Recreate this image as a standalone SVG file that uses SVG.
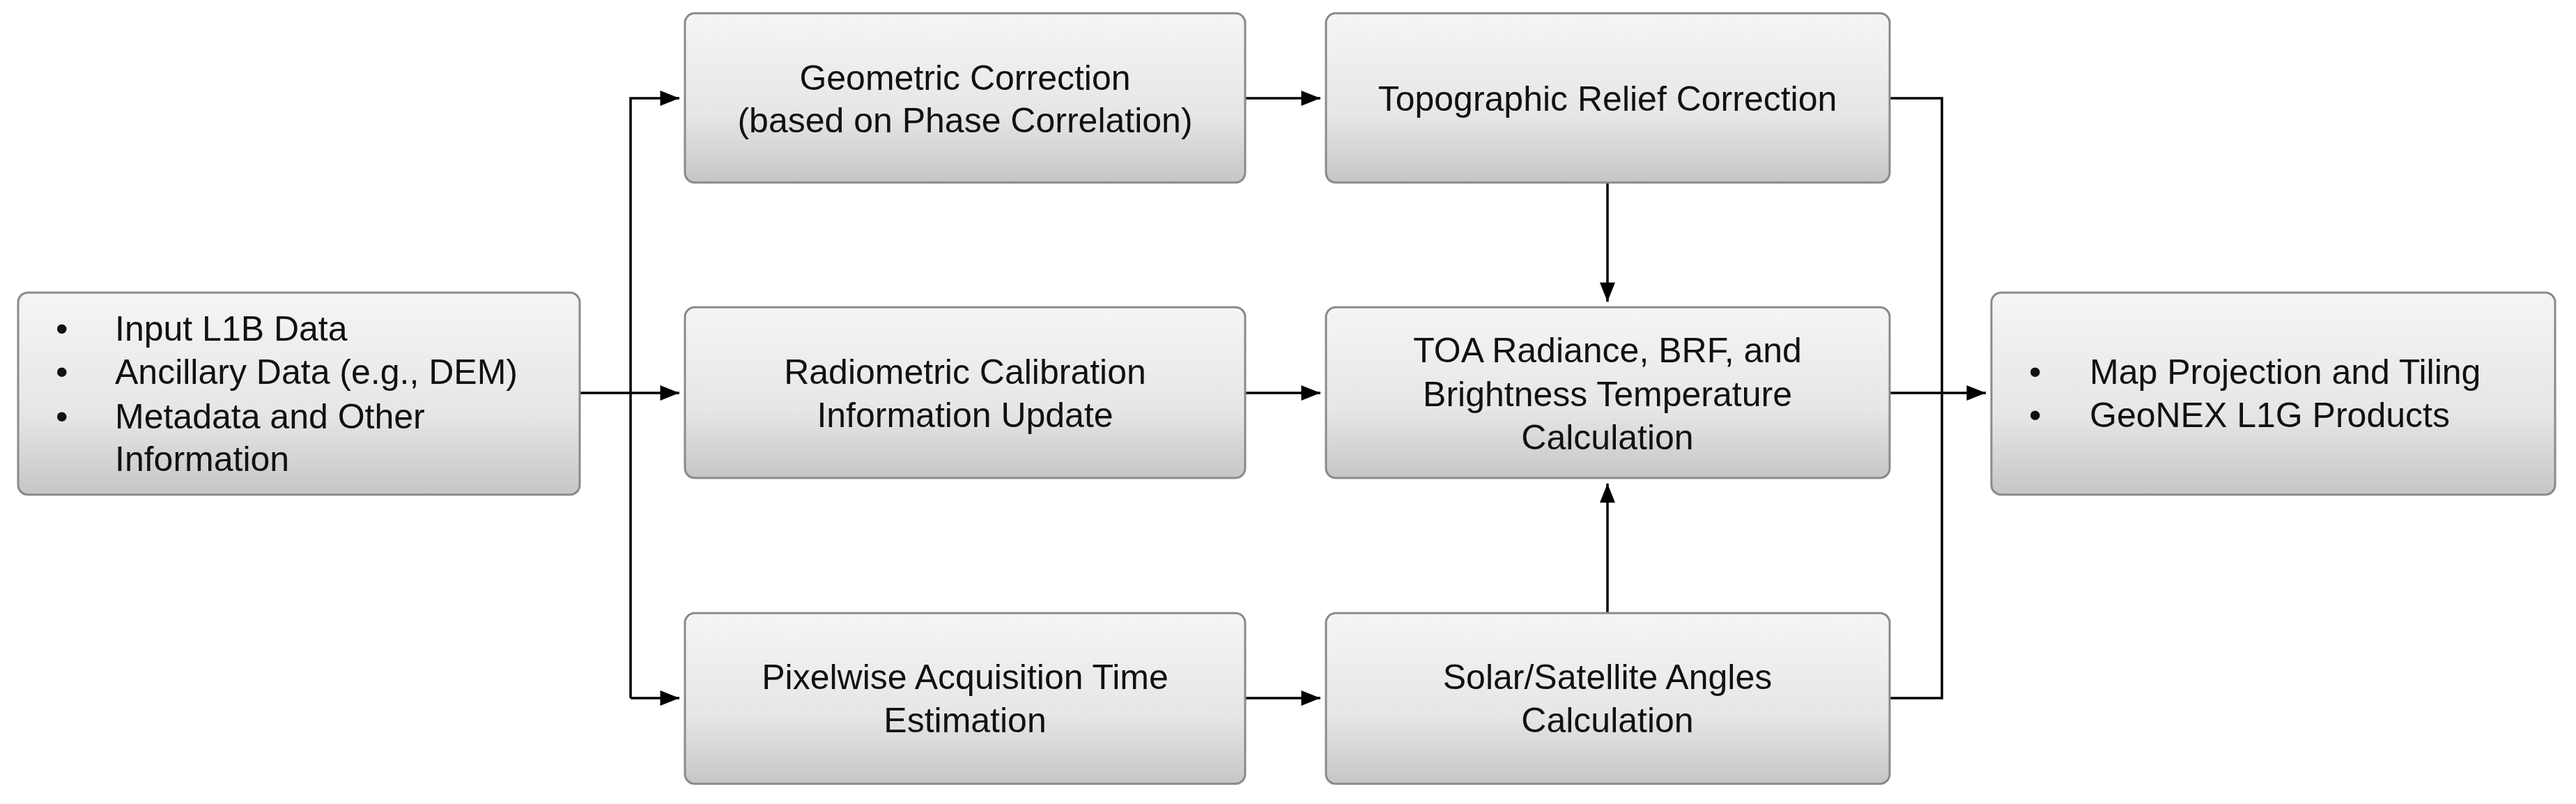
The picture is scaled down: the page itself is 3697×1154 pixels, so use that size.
<svg xmlns="http://www.w3.org/2000/svg" width="3697" height="1154" viewBox="0 0 3697 1154">
<defs>
<linearGradient id="g" x1="0" y1="0" x2="0" y2="1"><stop offset="0" stop-color="#f5f5f5"/><stop offset="0.6" stop-color="#e6e6e6"/><stop offset="1" stop-color="#c6c6c6"/></linearGradient>
<marker id="a" markerWidth="10" markerHeight="8" refX="10" refY="4" orient="auto" markerUnits="userSpaceOnUse" viewBox="0 0 10 8"><path d="M0,0L10,4L0,8z" fill="#000"/></marker>
<marker id="b" viewBox="0 0 10 8" refX="10" refY="4" markerWidth="28" markerHeight="22" orient="auto" markerUnits="userSpaceOnUse"><path d="M0,0L10,4L0,8z" fill="#000"/></marker>
<style>
rect{fill:url(#g);stroke:#8a8a8a;stroke-width:3}
text{font-family:"Liberation Sans",Arial,sans-serif;font-size:50px;fill:#111}
.c{text-anchor:middle}
.l{fill:none;stroke:#000;stroke-width:3.5}
</style>
</defs>
<rect width="3697" height="1154" fill="#fff" style="fill:#fff;stroke:none"/>
<g id="connectors">
<path class="l" d="M833,564H975" marker-end="url(#b)"/>
<path class="l" d="M905,1002V141H975" marker-end="url(#b)"/>
<path class="l" d="M905,1002H975" marker-end="url(#b)"/>
<path class="l" d="M1787,141H1895" marker-end="url(#b)"/>
<path class="l" d="M1787,564H1895" marker-end="url(#b)"/>
<path class="l" d="M1787,1002H1895" marker-end="url(#b)"/>
<path class="l" d="M2307,262V433" marker-end="url(#b)"/>
<path class="l" d="M2307,880V694" marker-end="url(#b)"/>
<path class="l" d="M2712,141H2787V1002H2712"/>
<path class="l" d="M2712,564H2850" marker-end="url(#b)"/>
</g>
<g id="input"><rect x="26" y="420" width="806" height="290" rx="14"/>
<text x="80" y="489">•</text><text x="165" y="489">Input L1B Data</text>
<text x="80" y="551">•</text><text x="165" y="551">Ancillary Data (e.g., DEM)</text>
<text x="80" y="615">•</text><text x="165" y="615">Metadata and Other</text>
<text x="165" y="676">Information</text></g>
<g id="geo"><rect x="983" y="19" width="804" height="243" rx="14"/>
<text class="c" x="1385" y="129">Geometric Correction</text><text class="c" x="1385" y="190">(based on Phase Correlation)</text></g>
<g id="radio"><rect x="983" y="441" width="804" height="245" rx="14"/>
<text class="c" x="1385" y="551">Radiometric Calibration</text><text class="c" x="1385" y="613">Information Update</text></g>
<g id="pixel"><rect x="983" y="880" width="804" height="245" rx="14"/>
<text class="c" x="1385" y="989">Pixelwise Acquisition Time</text><text class="c" x="1385" y="1051">Estimation</text></g>
<g id="topo"><rect x="1903" y="19" width="809" height="243" rx="14"/>
<text class="c" x="2307" y="159">Topographic Relief Correction</text></g>
<g id="toa"><rect x="1903" y="441" width="809" height="245" rx="14"/>
<text class="c" x="2307" y="520">TOA Radiance, BRF, and</text><text class="c" x="2307" y="583">Brightness Temperature</text><text class="c" x="2307" y="645">Calculation</text></g>
<g id="solar"><rect x="1903" y="880" width="809" height="245" rx="14"/>
<text class="c" x="2307" y="989">Solar/Satellite Angles</text><text class="c" x="2307" y="1051">Calculation</text></g>
<g id="output"><rect x="2858" y="420" width="809" height="290" rx="14"/>
<text x="2912" y="551">•</text><text x="2999" y="551">Map Projection and Tiling</text>
<text x="2912" y="613">•</text><text x="2999" y="613">GeoNEX L1G Products</text></g>
</svg>
